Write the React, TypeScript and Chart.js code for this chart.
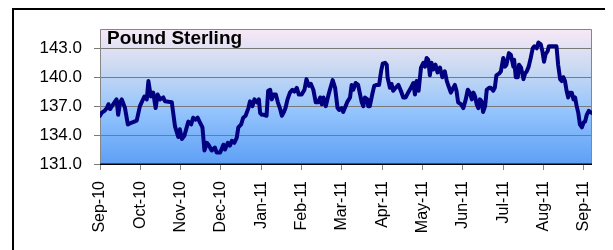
import React, { useEffect, useRef } from "react";
import { Chart, registerables } from "chart.js";

Chart.register(...registerables);

const chartTitle = "Pound Sterling";
const monthLabels = ["Sep-10", "Oct-10", "Nov-10", "Dec-10", "Jan-11", "Feb-11", "Mar-11", "Apr-11", "May-11", "Jun-11", "Jul-11", "Aug-11", "Sep-11"];
const yTickValues = [131, 134, 137, 140, 143];
const yMin = 131;
const yMax = 145;
const xMax = 12.2;

// time position in months since start of Sep-10
const monthPos = [
  0.0, 0.04, 0.11, 0.17, 0.21, 0.25, 0.33, 0.41, 0.45, 0.5, 0.54, 0.62, 0.69, 0.79, 0.91, 0.99,
  1.1, 1.16, 1.2, 1.26, 1.32, 1.38, 1.43, 1.49, 1.57, 1.61, 1.78, 1.86, 1.94, 1.98,
  2.03, 2.09, 2.15, 2.19, 2.26, 2.31, 2.37, 2.42, 2.48, 2.54, 2.59, 2.65, 2.69, 2.77, 2.85, 2.89, 2.98,
  3.06, 3.1, 3.17, 3.22, 3.27, 3.33, 3.39, 3.43, 3.5, 3.55, 3.61, 3.68, 3.72, 3.78, 3.83, 3.89, 3.94, 3.97,
  4.01, 4.07, 4.13, 4.17, 4.22, 4.26, 4.3, 4.36, 4.41, 4.46, 4.51, 4.55, 4.6, 4.65, 4.71, 4.77, 4.82, 4.88, 4.93,
  5.0, 5.07, 5.12, 5.18, 5.23, 5.29, 5.35, 5.41, 5.46, 5.5, 5.54, 5.6, 5.65, 5.7, 5.77, 5.83, 5.89, 5.93, 5.99,
  6.03, 6.09, 6.14, 6.2, 6.24, 6.28, 6.34, 6.4, 6.45, 6.49, 6.53, 6.57, 6.63, 6.65, 6.69, 6.75, 6.8, 6.86, 6.92, 6.97,
  7.01, 7.07, 7.11, 7.13, 7.19, 7.23, 7.27, 7.33, 7.4, 7.46, 7.52, 7.58, 7.64, 7.71, 7.77, 7.81, 7.85, 7.9, 7.96,
  8.02, 8.06, 8.1, 8.14, 8.18, 8.22, 8.26, 8.32, 8.37, 8.43, 8.49, 8.55, 8.6, 8.64, 8.7, 8.76, 8.8, 8.84, 8.88, 8.95,
  9.01, 9.07, 9.12, 9.17, 9.22, 9.26, 9.3, 9.34, 9.38, 9.42, 9.46, 9.5, 9.55, 9.59, 9.65, 9.69, 9.75, 9.79, 9.83, 9.9, 9.94,
  10.0, 10.04, 10.08, 10.14, 10.19, 10.25, 10.27, 10.31, 10.36, 10.39, 10.44, 10.5, 10.54, 10.58, 10.63, 10.68, 10.73, 10.77, 10.83, 10.87, 10.93, 10.97,
  11.01, 11.05, 11.1, 11.13, 11.2, 11.26, 11.32, 11.36, 11.41, 11.45, 11.49, 11.53, 11.57, 11.61, 11.65, 11.7, 11.74, 11.78, 11.82, 11.86, 11.9, 11.95, 11.99,
  12.03, 12.07, 12.12, 12.19,
];

const rate = [
  136.0, 136.3, 136.5, 136.8, 137.2, 136.7, 137.2, 137.7, 136.1, 137.4, 137.7, 136.8, 135.1, 135.3, 135.5, 137.0,
  138.0, 137.7, 139.6, 138.0, 138.4, 136.8, 138.2, 137.7, 137.9, 137.5, 137.4, 134.9, 133.8, 134.6,
  133.6, 133.9, 134.8, 135.4, 135.1, 135.8, 135.6, 135.8, 135.3, 134.8, 132.4, 133.2, 133.0, 132.4, 132.7, 132.2, 132.2,
  133.0, 132.5, 133.2, 132.9, 133.4, 133.2, 133.7, 134.8, 135.1, 135.8, 136.0, 136.8, 137.5, 137.0, 137.7, 137.4, 137.7, 136.3,
  136.1, 136.1, 136.0, 138.6, 138.7, 137.7, 138.2, 138.2, 137.4, 136.8, 136.0, 136.3, 136.8, 137.7, 138.4, 138.7, 138.5, 138.9, 138.2,
  138.2, 138.7, 139.8, 139.1, 139.3, 138.7, 137.4, 137.4, 137.9, 137.2, 137.9, 137.0, 137.9, 138.7, 139.7, 138.9, 136.8, 136.6, 136.8,
  136.4, 137.0, 137.5, 137.9, 139.2, 138.7, 139.4, 139.2, 138.2, 137.4, 137.0, 137.9, 137.7, 137.0, 137.0, 138.2, 139.1, 139.2, 139.2, 140.6,
  141.4, 141.5, 141.3, 140.0, 138.9, 139.3, 138.6, 138.9, 139.2, 138.6, 137.9, 137.9, 138.4, 138.9, 139.4, 138.2, 139.6, 138.6, 141.0,
  141.5, 141.1, 142.0, 141.8, 140.2, 141.5, 140.8, 141.3, 140.5, 141.0, 140.0, 140.6, 139.6, 139.1, 138.4, 138.9, 139.2, 138.6, 137.4, 137.2,
  136.8, 137.7, 138.7, 138.4, 137.7, 138.4, 138.0, 137.2, 136.8, 137.7, 137.5, 136.4, 137.0, 138.7, 138.9, 138.9, 138.6, 138.9, 140.2, 140.4, 140.6,
  142.0, 141.1, 141.3, 142.5, 142.3, 141.1, 141.8, 140.0, 140.0, 141.3, 141.0, 139.8, 140.4, 140.6, 141.1, 142.0, 143.0, 143.2, 143.0, 143.6, 143.4, 142.7,
  141.6, 142.4, 142.7, 143.2, 143.2, 143.2, 143.2, 141.3, 139.8, 139.6, 140.0, 139.6, 138.6, 137.9, 138.4, 138.4, 137.7, 137.9, 137.0, 136.3, 135.1, 134.8, 135.3,
  135.4, 136.1, 136.5, 136.3,
];

const FONT = "'Liberation Sans', Arial, sans-serif";

const framePlugin = {
  id: "framePlugin",
  beforeDraw(chart: any) {
    const { ctx, width, height, chartArea } = chart;
    ctx.save();
    ctx.fillStyle = "#ffffff";
    ctx.fillRect(0, 0, width, height);
    // outer frame
    ctx.fillStyle = "#000000";
    ctx.fillRect(4, 0, 599, 2);
    ctx.fillRect(4, 0, 2, height);
    ctx.fillRect(601, 0, 2, height);
    // plot background gradient
    const g = ctx.createLinearGradient(0, chartArea.top, 0, chartArea.bottom);
    g.addColorStop(0, "#f8e8f6");
    g.addColorStop(0.3, "#c8d9f2");
    g.addColorStop(0.62, "#92c3fc");
    g.addColorStop(1, "#5e9ff6");
    ctx.fillStyle = g;
    ctx.fillRect(chartArea.left, chartArea.top, chartArea.right - chartArea.left, chartArea.bottom - chartArea.top);
    ctx.restore();
  },
  beforeDatasetsDraw(chart: any) {
    const { ctx, chartArea } = chart;
    ctx.save();
    ctx.lineWidth = 1;
    ctx.strokeStyle = "#868686";
    ctx.beginPath();
    ctx.moveTo(chartArea.left + 0.5, chartArea.bottom);
    ctx.lineTo(chartArea.left + 0.5, chartArea.top + 0.5);
    ctx.lineTo(chartArea.right - 0.5, chartArea.top + 0.5);
    ctx.lineTo(chartArea.right - 0.5, chartArea.bottom);
    ctx.stroke();
    ctx.strokeStyle = "#000000";
    ctx.lineWidth = 1.5;
    ctx.beginPath();
    ctx.moveTo(chartArea.left, chartArea.bottom + 0.25);
    ctx.lineTo(chartArea.right, chartArea.bottom + 0.25);
    ctx.stroke();
    ctx.restore();
  },
  afterDraw(chart: any) {
    const { ctx, chartArea } = chart;
    ctx.save();
    ctx.fillStyle = "#000000";
    ctx.font = `bold 19px ${FONT}`;
    ctx.textBaseline = "alphabetic";
    ctx.textAlign = "left";
    ctx.fillText(chartTitle, chartArea.left + 7, chartArea.top + 15);
    ctx.restore();
  },
};

export default function App() {
  const canvasRef = useRef<HTMLCanvasElement | null>(null);

  useEffect(() => {
    const canvas = canvasRef.current;
    if (!canvas) return;
    const points = monthPos.map((m, i) => ({ x: m, y: rate[i] }));
    const chart = new Chart(canvas, {
      type: "line",
      data: {
        datasets: [
          {
            data: points,
            borderColor: "#000080",
            borderWidth: 4,
            pointRadius: 0,
            tension: 0,
            fill: false,
            borderJoinStyle: "round",
            borderCapStyle: "round",
          },
        ],
      },
      options: {
        responsive: false,
        animation: false,
        devicePixelRatio: 1,
        layout: { padding: { left: 0, top: 21, right: 21, bottom: 0 } },
        plugins: { legend: { display: false }, tooltip: { enabled: false }, title: { display: false } },
        scales: {
          x: {
            type: "linear",
            min: 0,
            max: xMax,
            afterBuildTicks: (axis: any) => {
              axis.ticks = monthLabels.map((_, i) => ({ value: i }));
            },
            afterFit: (scale: any) => {
              scale.height = 86;
              scale.paddingLeft = 0;
              scale.paddingRight = 0;
            },
            grid: { drawOnChartArea: false, drawTicks: true, tickLength: 6, color: "#868686" },
            border: { display: false },
            ticks: {
              autoSkip: false,
              minRotation: 90,
              maxRotation: 90,
              padding: 11,
              color: "#000000",
              font: { family: FONT, size: 16 },
              callback: (v: any) => monthLabels[Math.round(Number(v))],
            },
          },
          y: {
            type: "linear",
            min: yMin,
            max: yMax,
            afterBuildTicks: (axis: any) => {
              axis.ticks = yTickValues.map((v) => ({ value: v }));
            },
            afterFit: (scale: any) => {
              scale.width = 92;
              scale.paddingTop = 0;
              scale.paddingBottom = 0;
            },
            grid: { drawOnChartArea: true, drawTicks: true, tickLength: 6, color: "#7a7a7a", lineWidth: 1 },
            border: { display: false },
            ticks: {
              padding: 12,
              color: "#000000",
              font: { family: FONT, size: 17 },
              callback: (v: any) => Number(v).toFixed(1),
            },
          },
        },
      },
      plugins: [framePlugin],
    });
    return () => chart.destroy();
  }, []);

  return (
    <div style={{ width: 605, height: 242 }}>
      <canvas ref={canvasRef} width={605} height={242} style={{ display: "block", width: 605, height: 242 }} />
    </div>
  );
}
